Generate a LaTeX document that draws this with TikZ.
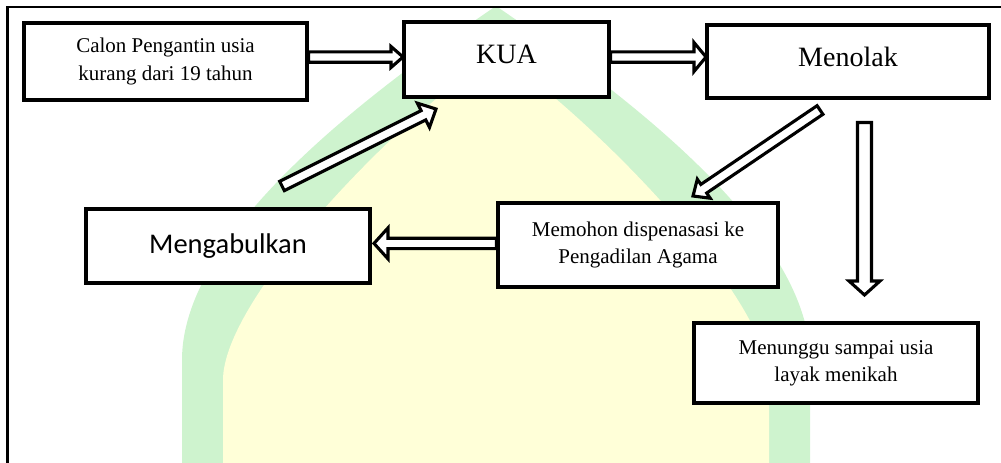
\documentclass[tikz,border=0pt]{standalone}
\usepackage{fontspec}
\setmainfont{Liberation Serif}
\newfontfamily\calibfont{Carlito}
\usetikzlibrary{calc}
\definecolor{wmgreen}{RGB}{206,243,206}
\definecolor{wmyellow}{RGB}{255,255,216}
\tikzset{
  boxnode/.style={draw=black, line width=3.2pt, fill=white, inner sep=0pt, align=center},
  smalltext/.style={font=\fontsize{21}{27.2}\selectfont, align=center},
  bigtext/.style={font=\fontsize{28}{32}\selectfont, inner sep=0pt},
  sanstext/.style={font=\calibfont\fontsize{28.5}{32}\selectfont},
  barrow/.style={draw=black, fill=white, line width=3.1pt, line join=miter},
  frameline/.style={draw=black, line width=2.2pt}
}
% #1 tail, #2 tip, #3 shaft half width, #4 head half width, #5 head length
\newcommand\blockarr[5]{%
  \coordinate (ba-hc) at ($(#2)!#5!(#1)$);
  \draw[barrow] ($(#1)!#3!90:(#2)$) -- ($(ba-hc)!#3!90:(#2)$) -- ($(ba-hc)!#4!90:(#2)$)
    -- (#2) -- ($(ba-hc)!#4!-90:(#2)$) -- ($(ba-hc)!#3!-90:(#2)$) -- ($(#1)!#3!-90:(#2)$) -- cycle;}
\begin{document}
\begin{tikzpicture}[x=1pt,y=1pt]
\useasboundingbox (0,0) rectangle (1001,-463);
\clip (0,0) rectangle (1001,-463);
% watermark
\fill[wmgreen] (182,-470) -- (182,-360) .. controls (182,-230) and (376,-88) .. (496,-6)
  .. controls (616,-88) and (810,-230) .. (810,-360) -- (810,-470) -- cycle;
\fill[wmyellow] (223,-470) -- (223,-380) .. controls (223,-300) and (391,-125) .. (496,-52)
  .. controls (601,-125) and (769,-300) .. (769,-380) -- (769,-470) -- cycle;
% frame
\draw[frameline] (7.5,-480) -- (7.5,-7.3) -- (1010,-7.3);
% boxes
\node[boxnode, smalltext, minimum width=283pt, minimum height=77pt] (calon) at (165.5,-61.5)
  {Calon Pengantin usia\\kurang dari 19 tahun};
\node[boxnode, minimum width=205pt, minimum height=75pt] (kua) at (506.5,-59.5) {};
\node[bigtext] (kuatxt) at ($(kua.center)+(0,5)$) {KUA};
\node[boxnode, minimum width=282pt, minimum height=73pt] (menolak) at (848,-61.5) {};
\node[bigtext] (menolaktxt) at ($(menolak.center)+(0,5)$) {Menolak};
\node[boxnode, smalltext, minimum width=280pt, minimum height=84pt] (memohon) at (638,-245)
  {Memohon dispenasasi ke\\Pengadilan Agama};
\node[boxnode, sanstext, minimum width=284pt, minimum height=74pt] (mengab) at (228,-246)
  {Mengabulkan};
\node[boxnode, smalltext, minimum width=284pt, minimum height=80pt] (menunggu) at (836,-363)
  {Menunggu sampai usia\\layak menikah};
% arrow end points
\coordinate (a1s) at (calon.east |- 0,-57);
\coordinate (a1e) at (403,-57);
\coordinate (a2s) at (kua.east |- 0,-57);
\coordinate (a2e) at (706,-57);
\coordinate (a3s) at (864.5,-122.5);
\coordinate (a3e) at (864.5,-295);
\coordinate (a4s) at (memohon.west |- 0,-243.4);
\coordinate (a4e) at (374,-243.4);
\coordinate (a5s) at (820,-110);
\coordinate (a5e) at (693,-196);
\coordinate (a6s) at (282,-186);
\coordinate (a6e) at (436,-109);
% arrows
\blockarr{a1s}{a1e}{5.2pt}{10.5pt}{12pt}
\blockarr{a2s}{a2e}{5.2pt}{14.5pt}{12pt}
\blockarr{a3s}{a3e}{7pt}{15.5pt}{14pt}
\blockarr{a4s}{a4e}{5.2pt}{15.5pt}{14pt}
\blockarr{a5s}{a5e}{5.2pt}{11.5pt}{13pt}
\blockarr{a6s}{a6e}{5.2pt}{13.5pt}{14pt}
\end{tikzpicture}
\end{document}
